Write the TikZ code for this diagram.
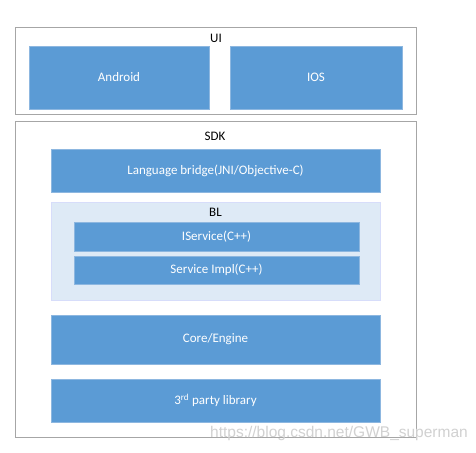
\documentclass[tikz,border=0pt]{standalone}
\usepackage{fontspec}
\setmainfont{Carlito}
\newfontfamily\wmfont{Liberation Sans}
\definecolor{blk}{HTML}{5B9BD5}
\definecolor{blkline}{HTML}{8DB7E0}
\definecolor{blfill}{HTML}{DEEAF6}
\definecolor{outer}{HTML}{A6A6A6}
\begin{document}
\begin{tikzpicture}[x=1pt,y=-1pt,
  layer/.style={fill=blk,draw=blkline,line width=0.6pt},
  ltext/.style={text=white,font=\fontsize{13}{15}\selectfont},
  frame/.style={draw=outer,line width=0.8pt,fill=white},
  title/.style={font=\fontsize{13}{15}\selectfont,text=black,inner sep=0pt}]
\useasboundingbox (0,0) rectangle (476,452);
\fill[white] (0,0) rectangle (476,452);
% UI
\draw[frame] (15,27) rectangle (416,114);
\node[title] (ui) at (216,38) {UI};
\draw[layer] (29,46) rectangle (209,109);
\node[ltext] (android) at (119,77.5) {Android};
\draw[layer] (230,46) rectangle (402,109);
\node[ltext] (ios) at (316,77.5) {IOS};
% SDK
\draw[frame] (15,121) rectangle (416,437);
\node[title] (sdk) at (215,136) {SDK};
\draw[layer] (51,149) rectangle (380,192);
\node[ltext] (lb) at (215.5,170.5) {Language bridge(JNI/Objective-C)};
\draw[fill=blfill,draw=blfill!85!blue!60!white,line width=0.5pt] (51,202) rectangle (380,300);
\node[title] (bl) at (215.5,212) {BL};
\draw[layer] (74,222) rectangle (359,251);
\node[ltext] (iserv) at (216.5,236.5) {IService(C++)};
\draw[layer] (74,256) rectangle (359,284);
\node[ltext] (simpl) at (216.5,270) {Service Impl(C++)};
\draw[layer] (51,315) rectangle (380,364);
\node[ltext] (core) at (215.5,339.5) {Core/Engine};
\draw[layer] (51,379) rectangle (380,422);
\node[ltext] (third) at (215.5,400.5) {3\textsuperscript{rd} party library};
% watermark
\node[text=black!18,font=\wmfont\fontsize{15.5}{17}\selectfont,anchor=east,inner sep=0pt] (wm) at (468,433) {https://blog.csdn.net/GWB\_superman};
\end{tikzpicture}
\end{document}
